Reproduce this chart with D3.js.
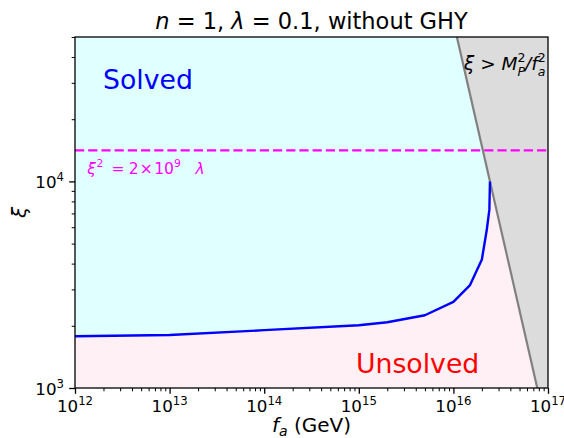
<!DOCTYPE html>
<html><head><meta charset="utf-8">
<script src="https://cdn.jsdelivr.net/npm/d3@7"></script>
<style>body{margin:0;background:#fff} text{font-family:"DejaVu Sans",sans-serif}</style>
</head><body><svg id="c" width="564" height="438"></svg>
<script>
// Data
const faValues = [1e12, 1e13, 1e14, 1e15, 2e15, 5e15, 1e16, 1.5e16, 2e16, 2.25e16, 2.4e16, 2.435e16];
const xiValues = [1780, 1805, 1905, 2013, 2080, 2250, 2610, 3150, 4190, 5800, 7300, 10000];
const boundaryFa = [1.089e16, 7.7e16];   // xi = M_P^2 / f_a^2
const boundaryXi = [5e4, 1e3];
const dashedXi = [14142];                 // xi^2 = 2e9 * lambda, lambda = 0.1
const xTickExps = [12, 13, 14, 15, 16, 17];
const yTickExps = [3, 4];
const xDomain = [1e12, 1e17];
const yDomain = [1e3, 5e4];

const svg = d3.select("#c");
const L = 75, R = 548, T = 37, B = 388;
const x = d3.scaleLog().domain(xDomain).range([L, R]);
const y = d3.scaleLog().domain(yDomain).range([B, T]);

const curve = faValues.map((f, i) => [f, xiValues[i]]);
const lineGen = d3.line().x(d => x(d[0])).y(d => y(d[1]));

const defs = svg.append("defs");
defs.append("clipPath").attr("id", "clip").append("rect").attr("x", L).attr("y", T).attr("width", R - L).attr("height", B - T);
const plot = svg.append("g").attr("clip-path", "url(#clip)");

// pink background (unsolved)
plot.append("rect").attr("x", L).attr("y", T).attr("width", R - L).attr("height", B - T).attr("fill", "#fff0f5");
// cyan (solved) above curve
const cyanPoly = curve.concat([[faValues[faValues.length - 1], yDomain[1]], [xDomain[0], yDomain[1]]]);
plot.append("path").attr("d", lineGen(cyanPoly) + "Z").attr("fill", "#e0ffff");
// gray excluded region
const grayPoly = [[boundaryFa[0], boundaryXi[0]], [boundaryFa[1], boundaryXi[1]], [xDomain[1], yDomain[0]], [xDomain[1], yDomain[1]]];
plot.append("path").attr("d", lineGen(grayPoly) + "Z").attr("fill", "#dcdcdc");
// boundary line
plot.append("path").attr("d", lineGen(boundaryFa.map((f, i) => [f, boundaryXi[i]])))
  .attr("fill", "none").attr("stroke", "#808080").attr("stroke-width", 2.2);
// dashed line
plot.append("line").attr("x1", L).attr("x2", R).attr("y1", y(dashedXi[0])).attr("y2", y(dashedXi[0]))
  .attr("stroke", "#ff00ff").attr("stroke-width", 2.3).attr("stroke-dasharray", "9.2,4");
// blue curve
plot.append("path").attr("d", lineGen(curve)).attr("fill", "none").attr("stroke", "#0000ff")
  .attr("stroke-width", 2.4).attr("stroke-linejoin", "round");

// axes
const xMinor = [];
for (let e = 12; e < 17; e++) for (let k = 2; k <= 9; k++) xMinor.push(k * Math.pow(10, e));
const yMinor = [];
for (let e = 3; e < 5; e++) for (let k = 2; k <= 9; k++) { const v = k * Math.pow(10, e); if (v <= yDomain[1]) yMinor.push(v); }
svg.append("g").attr("class", "maj").attr("transform", `translate(0,${B})`)
  .call(d3.axisBottom(x).tickValues(xTickExps.map(e => Math.pow(10, e))).tickFormat("").tickSize(5.8).tickSizeOuter(0));
svg.append("g").attr("class", "min").attr("transform", `translate(0,${B})`)
  .call(d3.axisBottom(x).tickValues(xMinor).tickFormat("").tickSize(3.3).tickSizeOuter(0));
svg.append("g").attr("class", "maj").attr("transform", `translate(${L},0)`)
  .call(d3.axisLeft(y).tickValues(yTickExps.map(e => Math.pow(10, e))).tickFormat("").tickSize(5.8).tickSizeOuter(0));
svg.append("g").attr("class", "min").attr("transform", `translate(${L},0)`)
  .call(d3.axisLeft(y).tickValues(yMinor).tickFormat("").tickSize(3.3).tickSizeOuter(0));
svg.selectAll(".domain").remove();
svg.selectAll(".maj .tick line").attr("stroke", "#000").attr("stroke-width", 1.3);
svg.selectAll(".min .tick line").attr("stroke", "#000").attr("stroke-width", 1);
svg.append("rect").attr("x", L).attr("y", T).attr("width", R - L).attr("height", B - T)
  .attr("fill", "none").attr("stroke", "#000").attr("stroke-width", 1.3);

// tick labels
xTickExps.forEach(e => {
  const t = svg.append("text").attr("x", x(Math.pow(10, e))).attr("y", 412).attr("text-anchor", "middle").attr("font-size", 16.7);
  t.append("tspan").text("10");
  t.append("tspan").attr("font-size", 11.7).attr("dy", -7).text(e);
});
yTickExps.forEach(e => {
  const t = svg.append("text").attr("x", 64).attr("y", y(Math.pow(10, e)) + 6.5).attr("text-anchor", "end").attr("font-size", 16.7);
  t.append("tspan").text("10");
  t.append("tspan").attr("font-size", 11.7).attr("dy", -7).text(e);
});

// title
const title = svg.append("text").attr("x", (L + R) / 2).attr("y", 29).attr("text-anchor", "middle").attr("font-size", 22.5);
title.append("tspan").attr("font-style", "italic").text("n");
title.append("tspan").text(" = 1,  ");
title.append("tspan").attr("font-style", "italic").text("λ");
title.append("tspan").text(" = 0.1, without GHY");

// axis labels
const xl = svg.append("text").attr("x", (L + R) / 2).attr("y", 432).attr("text-anchor", "middle").attr("font-size", 20);
xl.append("tspan").attr("font-style", "italic").text("f");
xl.append("tspan").attr("font-style", "italic").attr("font-size", 14).attr("dy", 4).text("a");
xl.append("tspan").attr("dy", -4).text(" (GeV)");
svg.append("text").attr("transform", `translate(26,${(T + B) / 2}) rotate(-90)`).attr("text-anchor", "middle")
  .attr("font-size", 20).attr("font-style", "italic").text("ξ");

// annotations
svg.append("text").attr("x", 103).attr("y", 89).attr("font-size", 26.7).attr("fill", "#0000ff").text("Solved");
svg.append("text").attr("x", 356).attr("y", 373).attr("font-size", 26.7).attr("fill", "#ff0000").text("Unsolved");

function piece(px, py, size, txt, italic, fill) {
  svg.append("text").attr("x", px).attr("y", py).attr("font-size", size)
    .attr("font-style", italic ? "italic" : "normal").attr("fill", fill).text(txt);
}
const mg = "#ff00ff", mb = 174;
piece(87.3, mb, 15.5, "ξ", true, mg);
piece(96.5, mb - 7, 10.8, "2", false, mg);
piece(111.5, mb, 15.5, "=", false, mg);
piece(128.8, mb, 15.5, "2", false, mg);
piece(139.8, mb, 15.5, "×", false, mg);
piece(154.2, mb, 15.5, "10", false, mg);
piece(174, mb - 7, 10.8, "9", false, mg);
piece(195.5, mb, 15.5, "λ", true, mg);

// upper-right label: xi > M_P^2 / f_a^2
const bl = svg.append("text").attr("x", 464).attr("y", 70).attr("font-size", 18.5).attr("fill", "#000");
bl.append("tspan").attr("font-style", "italic").text("ξ");
bl.append("tspan").text(" > ");
bl.append("tspan").attr("font-style", "italic").text("M");
bl.append("tspan").attr("font-size", 12.5).attr("dy", -8).text("2");
bl.append("tspan").attr("font-size", 12.5).attr("font-style", "italic").attr("dx", -8).attr("dy", 14).text("P");
bl.append("tspan").attr("dy", -6).attr("font-style", "italic").text("/");
bl.append("tspan").attr("font-style", "italic").text("f");
bl.append("tspan").attr("font-size", 12.5).attr("dy", -8).text("2");
bl.append("tspan").attr("font-size", 12.5).attr("font-style", "italic").attr("dx", -8).attr("dy", 14).text("a");
</script></body></html>
